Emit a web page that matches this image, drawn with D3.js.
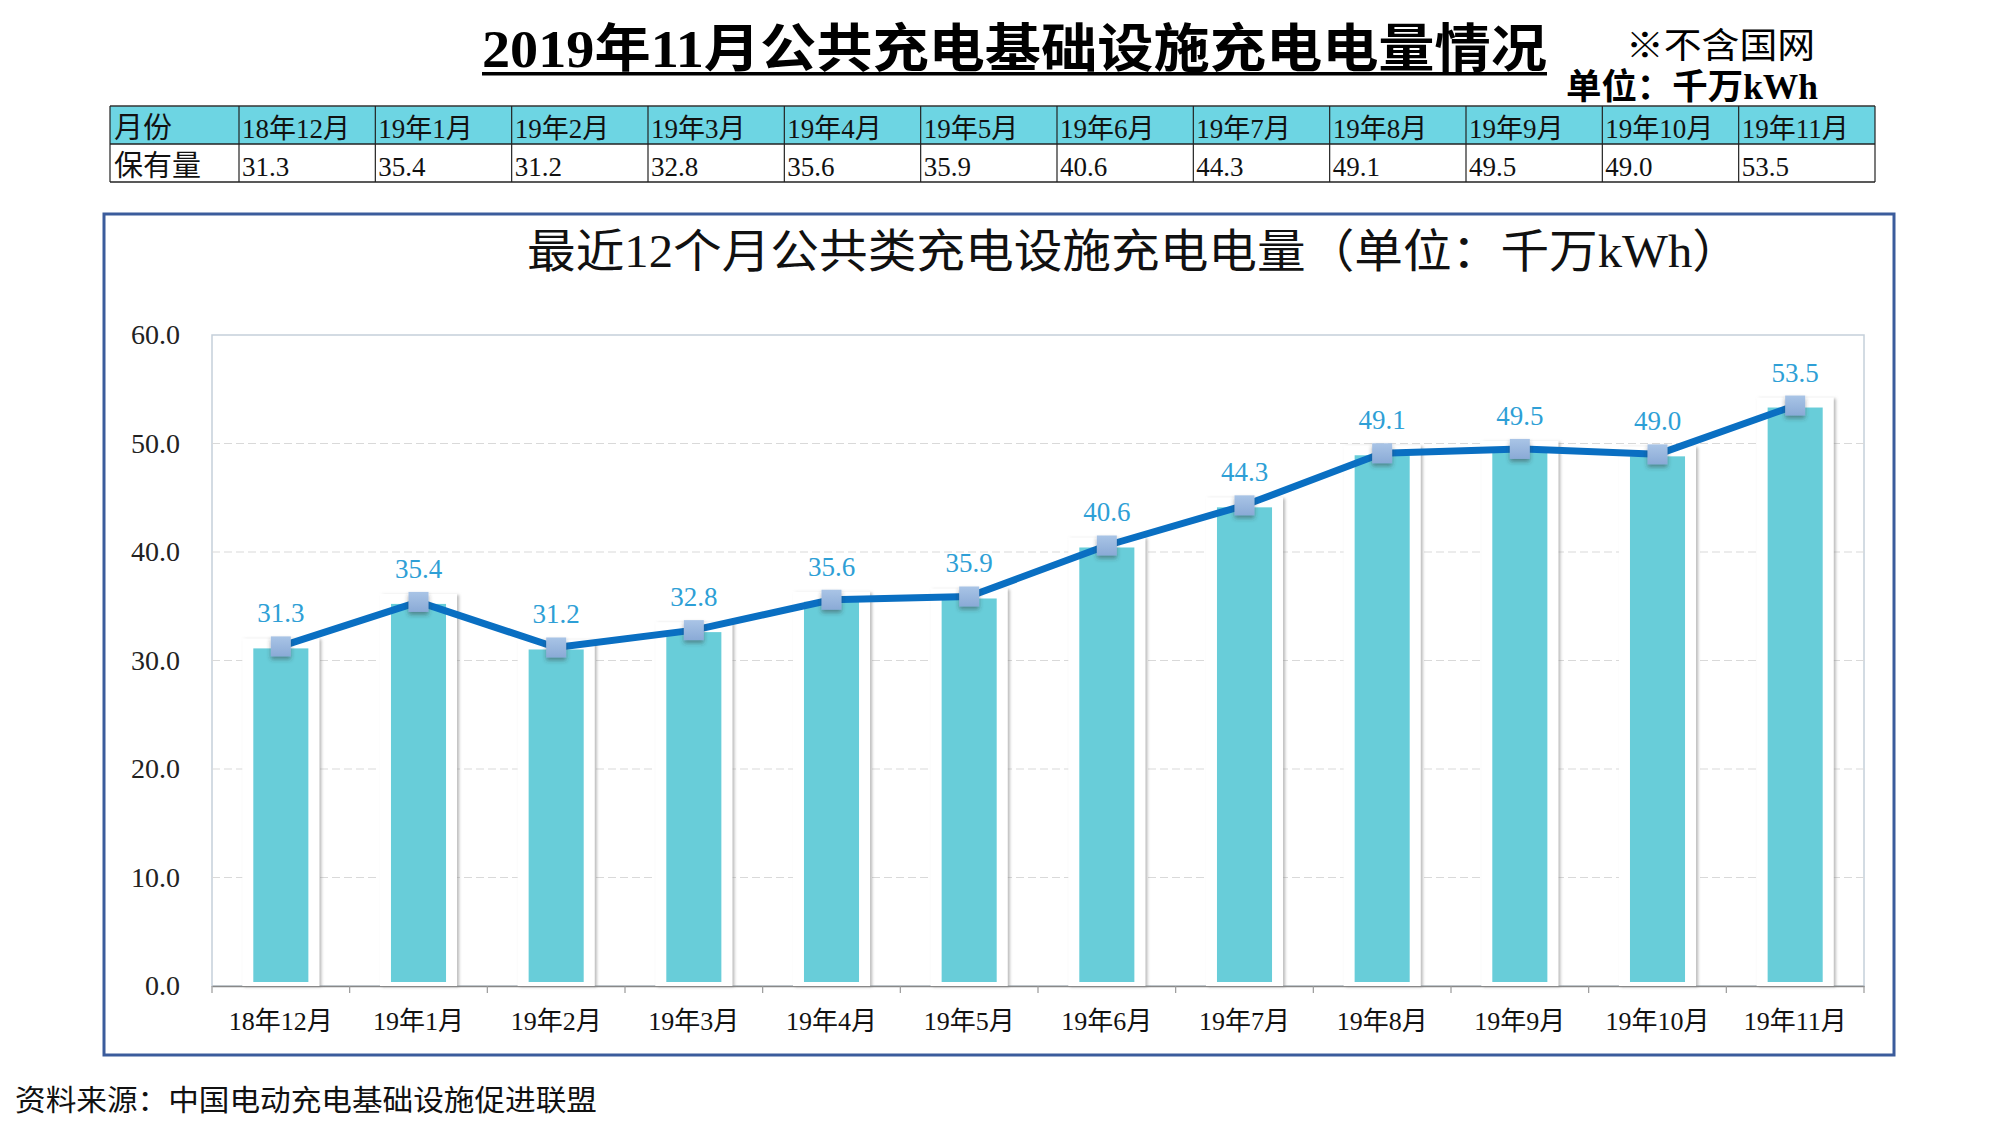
<!DOCTYPE html>
<html><head><meta charset="utf-8">
<script src="https://cdn.jsdelivr.net/npm/d3@7"></script>
<style>
html,body{margin:0;padding:0;background:#fff;}
svg{display:block;}
text{font-family:"Liberation Serif","Noto Sans CJK SC",serif;}
</style></head>
<body>
<svg id="c" width="2000" height="1126"></svg>
<script>
const categories = ["18年12月","19年1月","19年2月","19年3月","19年4月","19年5月","19年6月","19年7月","19年8月","19年9月","19年10月","19年11月"];
const values = [31.3,35.4,31.2,32.8,35.6,35.9,40.6,44.3,49.1,49.5,49.0,53.5];
const yTicks = [0,10,20,30,40,50,60];
const tableHeader = "月份";
const tableRowLabel = "保有量";
const mainTitle = "2019年11月公共充电基础设施充电电量情况";
const noteText = "※不含国网";
const unitText = "单位：千万kWh";
const chartTitle = "最近12个月公共类充电设施充电电量（单位：千万kWh）";
const sourceText = "资料来源：中国电动充电基础设施促进联盟";

const svg = d3.select("#c");
const defs = svg.append("defs");
const sh = defs.append("filter").attr("id","barShadow").attr("x","-30%").attr("y","-10%").attr("width","160%").attr("height","120%");
sh.append("feDropShadow").attr("dx",2).attr("dy",1).attr("stdDeviation",1.6).attr("flood-color","#888").attr("flood-opacity",0.6);
const mk = defs.append("filter").attr("id","mkShadow").attr("x","-50%").attr("y","-50%").attr("width","200%").attr("height","200%");
mk.append("feDropShadow").attr("dx",0).attr("dy",3).attr("stdDeviation",2).attr("flood-color","#333").attr("flood-opacity",0.45);
const grad = defs.append("linearGradient").attr("id","mkGrad").attr("x1",0).attr("y1",0).attr("x2",0).attr("y2",1);
grad.append("stop").attr("offset","0%").attr("stop-color","#A9C4E6");
grad.append("stop").attr("offset","100%").attr("stop-color","#8AAAD6");

// Main title
svg.append("text").attr("x",482).attr("y",67)
  .attr("font-size",52).attr("font-weight","bold").attr("fill","#000")
  .attr("textLength",1065).attr("lengthAdjust","spacingAndGlyphs").text(mainTitle);
svg.append("rect").attr("x",482).attr("y",72).attr("width",1065).attr("height",3.5).attr("fill","#000");

svg.append("text").attr("x",1626).attr("y",58).attr("font-size",35).attr("fill","#000")
  .attr("textLength",189).attr("lengthAdjust","spacingAndGlyphs").text(noteText);
svg.append("text").attr("x",1566).attr("y",99).attr("font-size",35).attr("font-weight","bold").attr("fill","#000")
  .attr("textLength",252).attr("lengthAdjust","spacingAndGlyphs").text(unitText);

// Table
const tX0 = 110, tX1 = 239, tX2 = 1875, tY0 = 106, tY1 = 144, tY2 = 182;
const colX = d3.scaleBand().domain(categories).range([tX1,tX2]);
const tbl = svg.append("g");
tbl.append("rect").attr("x",tX0).attr("y",tY0).attr("width",tX2-tX0).attr("height",tY1-tY0).attr("fill","#6DD5E3");
tbl.append("rect").attr("x",tX0).attr("y",tY1).attr("width",tX2-tX0).attr("height",tY2-tY1).attr("fill","#fff");
tbl.append("line").attr("x1",tX0).attr("x2",tX2).attr("y1",tY0).attr("y2",tY0).attr("stroke","#333").attr("stroke-width",1.5);
tbl.append("line").attr("x1",tX0).attr("x2",tX2).attr("y1",tY1).attr("y2",tY1).attr("stroke","#222").attr("stroke-width",1.5);
tbl.append("line").attr("x1",tX0).attr("x2",tX2).attr("y1",tY2).attr("y2",tY2).attr("stroke","#222").attr("stroke-width",1.5);
const vx = [tX0, tX1].concat(categories.map(c=>colX(c)+colX.bandwidth()));
tbl.selectAll("line.v").data(vx).join("line").attr("class","v")
  .attr("x1",d=>d).attr("x2",d=>d).attr("y1",tY0).attr("y2",tY2).attr("stroke","#222").attr("stroke-width",1.2);
tbl.append("text").attr("x",tX0+4).attr("y",tY1-6).attr("font-size",29).attr("fill","#111").text(tableHeader);
tbl.append("text").attr("x",tX0+4).attr("y",tY2-6).attr("font-size",29).attr("fill","#111").text(tableRowLabel);
tbl.selectAll("text.h").data(categories).join("text").attr("class","h")
  .attr("x",d=>colX(d)+3).attr("y",tY1-6).attr("font-size",27).attr("fill","#111").text(d=>d);
tbl.selectAll("text.val").data(values).join("text").attr("class","val")
  .attr("x",(d,i)=>colX(categories[i])+3).attr("y",tY2-6).attr("font-size",27).attr("fill","#111").text(d=>d.toFixed(1));

// Chart box
svg.append("rect").attr("x",104).attr("y",214).attr("width",1790).attr("height",841)
  .attr("fill","#fff").attr("stroke","#3B5C9C").attr("stroke-width",3);
svg.append("text").attr("x",527).attr("y",267).attr("font-size",46).attr("fill","#111")
  .attr("textLength",1214).attr("lengthAdjust","spacingAndGlyphs").text(chartTitle);

// Plot
const px0 = 212, px1 = 1864, py0 = 335, py1 = 986;
const x = d3.scaleBand().domain(categories).range([px0,px1]);
const y = d3.scaleLinear().domain([0,60]).range([py1,py0]);

const plot = svg.append("g");
plot.append("rect").attr("x",px0).attr("y",py0).attr("width",px1-px0).attr("height",py1-py0)
  .attr("fill","none").attr("stroke","#C5D0DA").attr("stroke-width",1.5);
plot.selectAll("line.grid").data(yTicks.filter(v=>v>0&&v<60)).join("line").attr("class","grid")
  .attr("x1",px0).attr("x2",px1).attr("y1",d=>y(d)).attr("y2",d=>y(d))
  .attr("stroke","#D9D9D9").attr("stroke-width",1.2).attr("stroke-dasharray","8,4");

const yAxis = d3.axisLeft(y).tickValues(yTicks).tickFormat(d3.format(".1f")).tickSize(0).tickPadding(0);
const ya = svg.append("g").attr("transform",`translate(180,0)`).call(yAxis);
ya.select(".domain").remove();
ya.selectAll("text").attr("font-size",28).attr("fill","#222").attr("font-family","Liberation Serif, serif");

const xAxis = d3.axisBottom(x).tickSize(0).tickPadding(26);
const xa = svg.append("g").attr("transform",`translate(0,${py1})`).call(xAxis);
xa.select(".domain").attr("stroke","#888").attr("stroke-width",1.5);
xa.selectAll("text").attr("font-size",26).attr("fill","#111").attr("font-family","Liberation Serif, Noto Sans CJK SC, serif");
const bounds = [px0].concat(categories.map(c=>x(c)+x.bandwidth()));
xa.selectAll("line.bt").data(bounds).join("line").attr("class","bt")
  .attr("x1",d=>d).attr("x2",d=>d).attr("y1",0).attr("y2",7).attr("stroke","#999").attr("stroke-width",1.2);

// Bars
const bw = x.bandwidth()*0.4;
const bars = svg.append("g");
bars.selectAll("rect.bg").data(values).join("rect").attr("class","bg")
  .attr("x",(d,i)=>x(categories[i])+x.bandwidth()/2-bw/2-11)
  .attr("y",d=>y(d)-8).attr("width",bw+22).attr("height",d=>py1-y(d)+8)
  .attr("fill","#fff").attr("filter","url(#barShadow)");
bars.selectAll("rect.bar").data(values).join("rect").attr("class","bar")
  .attr("x",(d,i)=>x(categories[i])+x.bandwidth()/2-bw/2)
  .attr("y",d=>y(d)+2).attr("width",bw).attr("height",d=>py1-4-y(d)-2)
  .attr("fill","#68CDD9");

// Line
const line = d3.line().x((d,i)=>x(categories[i])+x.bandwidth()/2).y(d=>y(d));
svg.append("path").datum(values).attr("d",line).attr("fill","none")
  .attr("stroke","#0A6FC2").attr("stroke-width",7).attr("stroke-linejoin","round");
const ms = 20;
svg.append("g").selectAll("rect").data(values).join("rect")
  .attr("x",(d,i)=>x(categories[i])+x.bandwidth()/2-ms/2).attr("y",d=>y(d)-ms/2)
  .attr("width",ms).attr("height",ms).attr("fill","url(#mkGrad)").attr("filter","url(#mkShadow)");

// Data labels
svg.append("g").selectAll("text").data(values).join("text")
  .attr("x",(d,i)=>x(categories[i])+x.bandwidth()/2).attr("y",d=>y(d)-24)
  .attr("text-anchor","middle").attr("font-size",27).attr("fill","#2E9FD6").text(d=>d.toFixed(1));

// Source
svg.append("text").attr("x",15).attr("y",1111).attr("font-size",29).attr("fill","#111")
  .attr("textLength",582).attr("lengthAdjust","spacingAndGlyphs").text(sourceText);
</script>
</body></html>
